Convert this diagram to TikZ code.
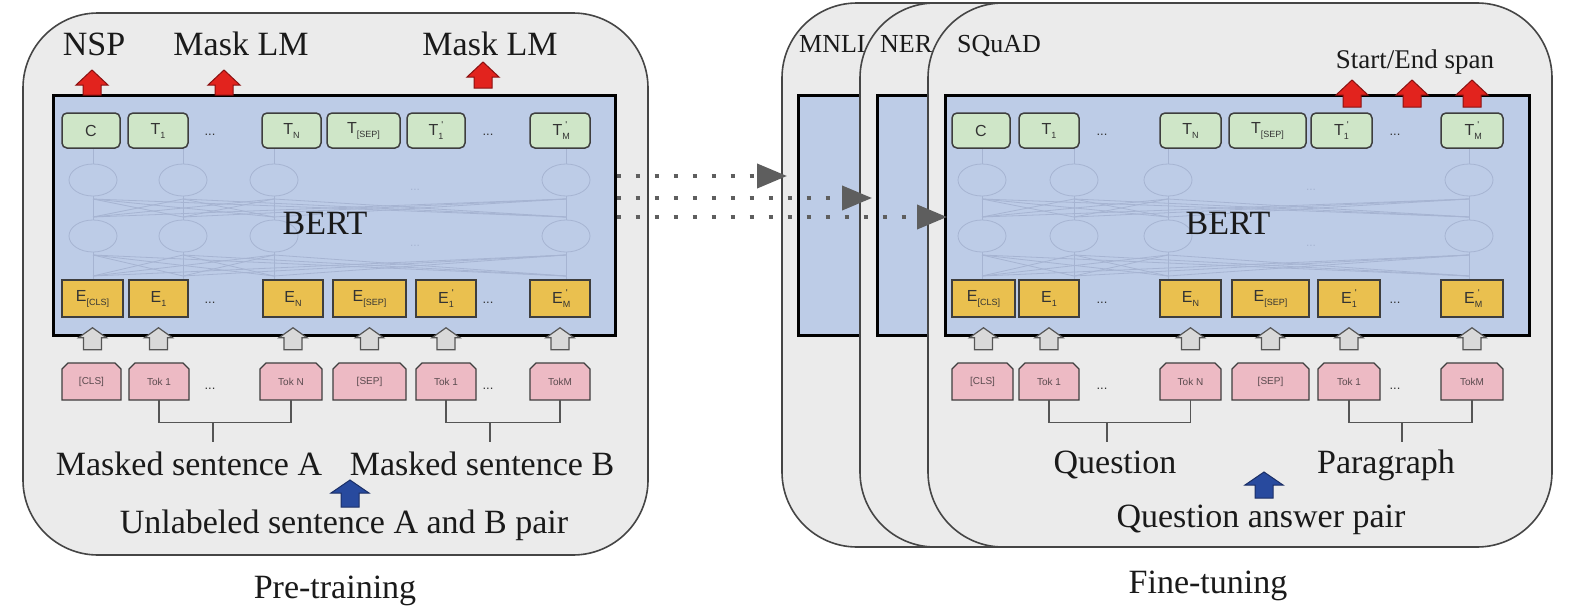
\documentclass[tikz,border=0pt]{standalone}
\usepackage{fontspec}
\setmainfont{Liberation Serif}
\newfontfamily\boxfont{Liberation Sans}
\usetikzlibrary{arrows.meta,calc}
\definecolor{panelfill}{HTML}{EBEBEB}
\definecolor{panelline}{HTML}{454545}
\definecolor{bertfill}{HTML}{BDCCE7}
\definecolor{greenfill}{HTML}{CFE6C8}
\definecolor{yellowfill}{HTML}{EAC04F}
\definecolor{pinkfill}{HTML}{EDBAC4}
\definecolor{boxline}{HTML}{3E3E3E}
\definecolor{redfill}{HTML}{E2231E}
\definecolor{redline}{HTML}{8A1010}
\definecolor{grayfill}{HTML}{D9D9D9}
\definecolor{grayline}{HTML}{555555}
\definecolor{bluefill}{HTML}{284A9E}
\definecolor{blueline}{HTML}{1A2E66}
\definecolor{netline}{HTML}{A6B4D2}
\definecolor{dotgray}{HTML}{5E5E5E}
\definecolor{boxtext}{HTML}{333333}
\definecolor{toktext}{HTML}{5A4A4E}
\definecolor{labeltext}{HTML}{1A1A1A}

\newcommand\lsub[1]{\raisebox{-4pt}{\fontsize{9}{9}\selectfont #1}}
\newcommand\lpr{\raisebox{7pt}{\fontsize{10}{10}\selectfont '}}
\newcommand\gbox[4]{\node[gbox,minimum width={#3-#2}] (#1) at ({(#2+#3)/2},130.5) {#4};}
\newcommand\ebox[4]{\node[ebox,minimum width={#3-#2}] (#1) at ({(#2+#3)/2},298.5) {#4};}
\newcommand\kbox[4]{\path[kshape] (#2,400) -- (#2,369) -- (#2+6,363) -- (#3-6,363) -- (#3,369) -- (#3,400) -- cycle;
  \node[ktext,minimum width={#3-#2}] (#1) at ({(#2+#3)/2},381.5) {#4};}
% style, x, ytip, ybase, head height, head half width, shaft half width
\newcommand\blkarrow[7]{\path[#1] (#2-#7,#4) -- (#2-#7,#3+#5) -- (#2-#6,#3+#5) -- (#2,#3) -- (#2+#6,#3+#5) -- (#2+#7,#3+#5) -- (#2+#7,#4) -- cycle;}
% token node (below), embedding node (above)
\newcommand\grayup[2]{\path[grayarr] let \p1=(#2.south), \p2=(#1.north) in
  (\x1-9pt,\y2+13pt) -- (\x1-9pt,\y1-20pt) -- (\x1-14pt,\y1-20pt) -- (\x1,\y1-10pt) -- (\x1+14pt,\y1-20pt) -- (\x1+9pt,\y1-20pt) -- (\x1+9pt,\y2+13pt) -- cycle;}
\newcommand\network[1]{%
  \foreach \a in {#1} {
    \draw[net] (\a,148) -- (\a,164);
    \draw[net] (\a,180) ellipse [x radius=24,y radius=16];
    \draw[net] (\a,236) ellipse [x radius=24,y radius=16];
    \draw[net] (\a,196) -- (\a,220);
    \draw[net] (\a,252) -- (\a,280);
    \foreach \b in {#1} {
      \draw[net] (\a,199) -- (\b,217);
      \draw[net] (\a,255) -- (\b,276);
    }
  }}

\begin{document}
\begin{tikzpicture}[x=1pt,y=-1pt,
  panel/.style={draw=panelline,line width=1.6pt,fill=panelfill,rounded corners=75pt,inner sep=0},
  bert/.style={draw=black,line width=3pt,fill=bertfill,inner sep=0},
  gbox/.style={draw=boxline,line width=1.5pt,fill=greenfill,rounded corners=5pt,minimum height=35,inner sep=0,font=\boxfont\fontsize{16}{16}\selectfont,text=boxtext},
  ebox/.style={draw=boxline,line width=1.5pt,fill=yellowfill,minimum height=37,inner sep=0,font=\boxfont\fontsize{16}{16}\selectfont,text=boxtext},
  kshape/.style={draw=boxline,line width=1.3pt,fill=pinkfill},
  ktext/.style={minimum height=37,inner sep=0,font=\boxfont\fontsize{10}{10}\selectfont,text=toktext},
  net/.style={draw=netline,line width=0.8pt},
  redarr/.style={fill=redfill,draw=redline,line width=1pt},
  grayarr/.style={fill=grayfill,draw=grayline,line width=1.2pt},
  bluearr/.style={fill=bluefill,draw=blueline,line width=1pt},
  dotarr/.style={draw=dotgray,line width=4pt,dash pattern=on 4pt off 15pt,-{Triangle[length=30pt,width=24pt]}},
  bracket/.style={draw=grayline,line width=1.3pt},
  lbl/.style={font=\fontsize{34}{40}\selectfont,inner sep=0,text=labeltext},
  tasklbl/.style={font=\fontsize{26}{30}\selectfont,inner sep=0,text=labeltext},
  ddd/.style={font=\boxfont\fontsize{13}{13}\selectfont,text=boxtext,inner sep=0},
  fdd/.style={font=\boxfont\fontsize{12}{12}\selectfont,text=netline,inner sep=0}
]
\useasboundingbox (0,0) rectangle (1575,613);
\fill[white] (0,0) rectangle (1575,613);

% ================= Pre-training =================
\node[panel,minimum width=625,minimum height=542] (lpanel) at (335.5,284) {};
\node[bert,minimum width=562,minimum height=240] (lbert) at (334,215) {};
\network{93,183,274,566}
\node[fdd] (lf1) at (415,190) {...};
\node[fdd] (lf2) at (415,246) {...};
\node[lbl,anchor=base] (lbertlbl) at (325,234) {BERT};

\gbox{lC}{62}{120}{C}
\gbox{lT1}{128}{188}{T\lsub{1}}
\gbox{lTN}{262}{321}{T\lsub{N}}
\gbox{lTS}{327}{400}{T\lsub{[SEP]}}
\gbox{lT1p}{407}{465}{T\rlap{\lsub{1}}\hspace{3pt}\lpr}
\gbox{lTMp}{530}{590}{T\rlap{\lsub{M}}\hspace{3pt}\lpr}
\node[ddd] (ld1) at (210,135) {...};
\node[ddd] (ld2) at (488,135) {...};

\ebox{lE0}{62}{123}{E\lsub{[CLS]}}
\ebox{lE1}{129}{188}{E\lsub{1}}
\ebox{lEN}{263}{323}{E\lsub{N}}
\ebox{lES}{333}{406}{E\lsub{[SEP]}}
\ebox{lE1p}{416}{476}{E\rlap{\lsub{1}}\hspace{3pt}\lpr}
\ebox{lEMp}{530}{590}{E\rlap{\lsub{M}}\hspace{3pt}\lpr}
\node[ddd] (ld3) at (210,303) {...};
\node[ddd] (ld4) at (488,303) {...};

\blkarrow{redarr}{92}{70}{95}{15}{16}{9}
\blkarrow{redarr}{224}{70}{95}{15}{16}{9}
\blkarrow{redarr}{483}{62}{88}{15}{16}{9}
\node[lbl,anchor=base] (nsp) at (94,55) {NSP};
\node[lbl,anchor=base] (mlm1) at (241,55) {Mask LM};
\node[lbl,anchor=base] (mlm2) at (490,55) {Mask LM};

\kbox{lK0}{62}{121}{[CLS]}
\kbox{lK1}{129}{189}{Tok 1}
\kbox{lKN}{260}{322}{Tok N}
\kbox{lKS}{333}{406}{[SEP]}
\kbox{lK1p}{416}{476}{Tok 1}
\kbox{lKMp}{530}{590}{TokM}
\node[ddd] (ld5) at (210,389) {...};
\node[ddd] (ld6) at (488,389) {...};

\grayup{lK0}{lE0}
\grayup{lK1}{lE1}
\grayup{lKN}{lEN}
\grayup{lKS}{lES}
\grayup{lK1p}{lE1p}
\grayup{lKMp}{lEMp}

\draw[bracket] (lK1.south) -- ++(0,22) -| (lKN.south);
\coordinate (lsA) at (213,422);
\draw[bracket] (lsA) -- ++(0,20);
\draw[bracket] (lK1p.south) -- ++(0,22) -| (lKMp.south);
\coordinate (lsB) at (490,422);
\draw[bracket] (lsB) -- ++(0,20);

\node[lbl,anchor=base] (msa) at (189,475) {Masked sentence A};
\node[lbl,anchor=base] (msb) at (482,475) {Masked sentence B};
\blkarrow{bluearr}{350}{480}{507}{13}{19}{9}
\node[lbl,anchor=base] (unl) at (344,533) {Unlabeled sentence A and B pair};
\node[lbl,anchor=base] (pre) at (335,598) {Pre-training};

% ================= Fine-tuning =================
\node[panel,minimum width=624,minimum height=544] (mpanel) at (1094,275) {};
\node[bert,minimum width=584,minimum height=240] (mbert) at (1090,215) {};
\node[tasklbl,anchor=base west] (mnli) at (799,52) {MNLI};

\node[panel,minimum width=624,minimum height=544] (npanel) at (1172,275) {};
\node[bert,minimum width=584,minimum height=240] (nbert) at (1169,215) {};
\node[tasklbl,anchor=base west] (ner) at (880,52) {NER};

\node[panel,minimum width=624,minimum height=544] (spanel) at (1240,275) {};
\node[bert,minimum width=584,minimum height=240] (rbert) at (1237,215) {};
\node[tasklbl,anchor=base west] (squad) at (957,52) {SQuAD};
\network{982,1074,1168,1469}
\node[fdd] (rf1) at (1311,190) {...};
\node[fdd] (rf2) at (1311,246) {...};
\node[lbl,anchor=base] (rbertlbl) at (1228,234) {BERT};

\gbox{rC}{952}{1010}{C}
\gbox{rT1}{1019}{1079}{T\lsub{1}}
\gbox{rTN}{1160}{1221}{T\lsub{N}}
\gbox{rTS}{1229}{1306}{T\lsub{[SEP]}}
\gbox{rT1p}{1311}{1372}{T\rlap{\lsub{1}}\hspace{3pt}\lpr}
\gbox{rTMp}{1441}{1503}{T\rlap{\lsub{M}}\hspace{3pt}\lpr}
\node[ddd] (rd1) at (1102,135) {...};
\node[ddd] (rd2) at (1395,135) {...};

\ebox{rE0}{952}{1015}{E\lsub{[CLS]}}
\ebox{rE1}{1019}{1079}{E\lsub{1}}
\ebox{rEN}{1160}{1221}{E\lsub{N}}
\ebox{rES}{1232}{1309}{E\lsub{[SEP]}}
\ebox{rE1p}{1318}{1380}{E\rlap{\lsub{1}}\hspace{3pt}\lpr}
\ebox{rEMp}{1441}{1503}{E\rlap{\lsub{M}}\hspace{3pt}\lpr}
\node[ddd] (rd3) at (1102,303) {...};
\node[ddd] (rd4) at (1395,303) {...};

\blkarrow{redarr}{1352}{80}{107}{15}{16}{9}
\blkarrow{redarr}{1412}{80}{107}{15}{16}{9}
\blkarrow{redarr}{1472}{80}{107}{15}{16}{9}
\node[font=\fontsize{27}{30}\selectfont,inner sep=0,text=labeltext,anchor=base] (span) at (1415,68) {Start/End span};

\kbox{rK0}{952}{1013}{[CLS]}
\kbox{rK1}{1019}{1079}{Tok 1}
\kbox{rKN}{1160}{1221}{Tok N}
\kbox{rKS}{1232}{1309}{[SEP]}
\kbox{rK1p}{1318}{1380}{Tok 1}
\kbox{rKMp}{1441}{1503}{TokM}
\node[ddd] (rd5) at (1102,389) {...};
\node[ddd] (rd6) at (1395,389) {...};

\grayup{rK0}{rE0}
\grayup{rK1}{rE1}
\grayup{rKN}{rEN}
\grayup{rKS}{rES}
\grayup{rK1p}{rE1p}
\grayup{rKMp}{rEMp}

\draw[bracket] (rK1.south) -- ++(0,22) -| (rKN.south);
\coordinate (rsA) at (1107,422);
\draw[bracket] (rsA) -- ++(0,20);
\draw[bracket] (rK1p.south) -- ++(0,22) -| (rKMp.south);
\coordinate (rsB) at (1402,422);
\draw[bracket] (rsB) -- ++(0,20);

\node[lbl,anchor=base] (quest) at (1115,473) {Question};
\node[lbl,anchor=base] (para) at (1386,473) {Paragraph};
\blkarrow{bluearr}{1264}{472}{498}{13}{19}{9}
\node[lbl,anchor=base] (qap) at (1261,527) {Question answer pair};
\node[lbl,anchor=base] (fine) at (1208,593) {Fine-tuning};

% ================= transfer arrows =================
\coordinate (e1) at (787,176);
\coordinate (e2) at (872,198);
\coordinate (e3) at (947,217);
\draw[dotarr] (lbert.east |- e1) -- (e1);
\draw[dotarr] (lbert.east |- e2) -- (e2);
\draw[dotarr] (lbert.east |- e3) -- (e3);
\end{tikzpicture}
\end{document}
